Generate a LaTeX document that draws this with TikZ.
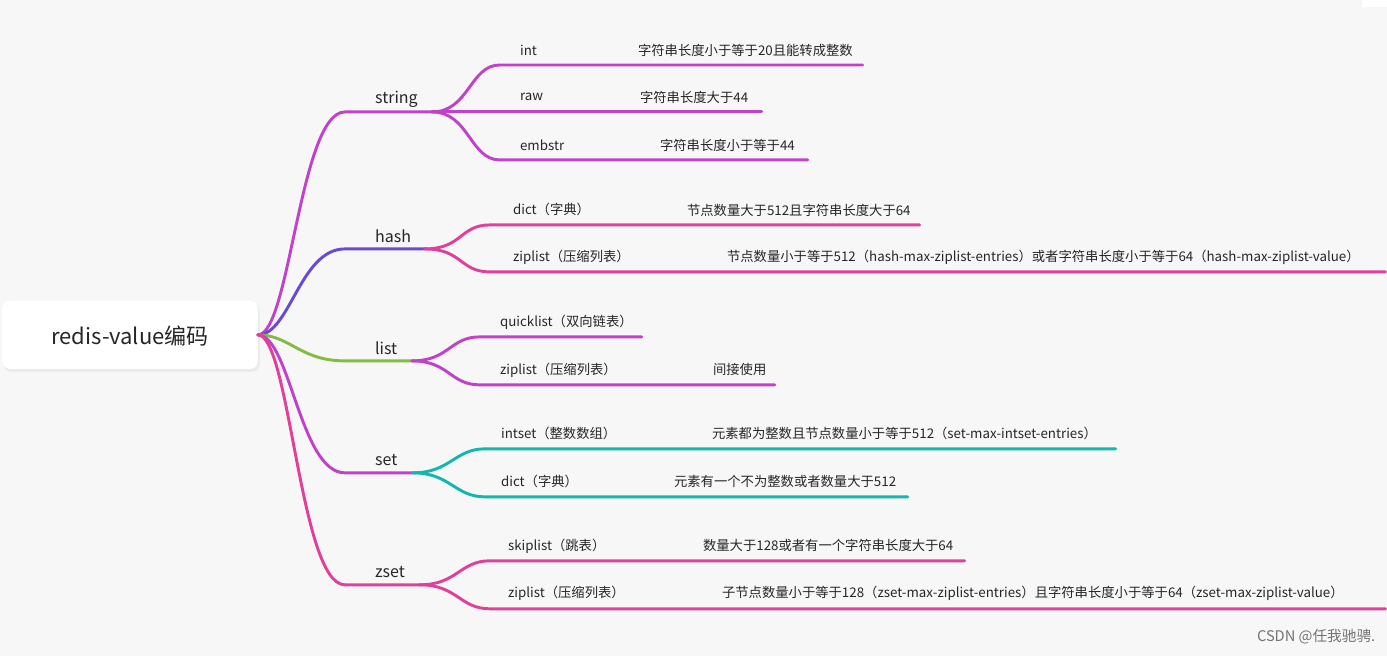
\documentclass[tikz,border=0pt]{standalone}
\usepackage{fontspec}
\setmainfont{Noto Sans CJK SC}
\begin{document}
\begin{tikzpicture}[x=0.75pt,y=-0.75pt,
  lbl/.style={anchor=west,inner sep=0pt,font=\fontsize{10pt}{12pt}\selectfont,text=black!85},
  cat/.style={anchor=west,inner sep=0pt,font=\fontsize{12pt}{14pt}\selectfont,text=black!85},
  br/.style={line width=2.2pt,line cap=round}]
\definecolor{cpur}{HTML}{C042C8}
\definecolor{cblu}{HTML}{6A4AD0}
\definecolor{cpnk}{HTML}{E0409A}
\definecolor{cgrn}{HTML}{82BC42}
\definecolor{ctea}{HTML}{12B8B0}
\fill[black!3] (0,0) rectangle (1387,656);
\fill[white] (1362,0) rectangle (1387,7);
\fill[black!8,rounded corners=6pt] (3,303) rectangle (260,372);
\node[draw=none,fill=white,rounded corners=6pt,minimum width=256\pgflinewidth,inner sep=0pt] (rootbox) at (130,335) {};
\fill[white,rounded corners=6pt] (2,301) rectangle (258,369);
\node[font=\fontsize{16.5pt}{18pt}\selectfont,text=black!85] (root) at (130,336) {redis-value编码};
\coordinate (r) at (258,335);
% categories
\foreach \nm/\y/\xe/\c in {string/112/432/cpur, hash/249/425/cblu, list/361/412/cgrn, set/473/413/cpur, zset/585/420/cpnk}{
  \coordinate (\nm-s) at (345,\y);
  \coordinate (\nm-j) at (\xe,\y);
  \draw[br,\c] (r) .. controls (290,335) and (300,\y) .. (\nm-s) -- (\nm-j);
  \node[cat] (\nm) at (375,\y-13) {\nm};
}
% children: parent/ y / xstart / xend / color / label x / name / desc x / desc
\foreach \p/\y/\xs/\xe/\c/\lx/\n/\dx/\d in {
  string/65/500/863/cpur/520/int/638/字符串长度小于等于20且能转成整数,
  string/112/500/762/cpur/520/raw/640/字符串长度大于44,
  string/160/500/808/cpur/520/embstr/660/字符串长度小于等于44,
  hash/225/490/920/cpnk/513/dict（字典）/687/节点数量大于512且字符串长度大于64,
  hash/272/490/1386/cpnk/513/ziplist（压缩列表）/727/节点数量小于等于512（hash-max-ziplist-entries）或者字符串长度小于等于64（hash-max-ziplist-value）,
  list/337/480/642/cpur/500/quicklist（双向链表）/0/,
  list/385/480/775/cpur/500/ziplist（压缩列表）/713/间接使用,
  set/449/485/1116/ctea/501/intset（整数数组）/712/元素都为整数且节点数量小于等于512（set-max-intset-entries）,
  set/497/485/908/ctea/501/dict（字典）/674/元素有一个不为整数或者数量大于512,
  zset/561/490/965/cpnk/508/skiplist（跳表）/703/数量大于128或者有一个字符串长度大于64,
  zset/609/490/1386/cpnk/508/ziplist（压缩列表）/722/子节点数量小于等于128（zset-max-ziplist-entries）且字符串长度小于等于64（zset-max-ziplist-value）}{
  \coordinate (e) at (\xe,\y);
  \draw[br,\c] (\p-j) .. controls ([xshift=28]\p-j) and (\xs-30,\y) .. (\xs,\y) -- (e);
  \node[lbl] at (\lx,\y-15) {\n};
  \node[lbl] at (\dx,\y-15) {\d};
}
\node[anchor=east,inner sep=0pt,font=\fontsize{11pt}{13pt}\selectfont,text=black!55] (wm) at (1376,637) {CSDN @任我驰骋.};
\end{tikzpicture}
\end{document}
